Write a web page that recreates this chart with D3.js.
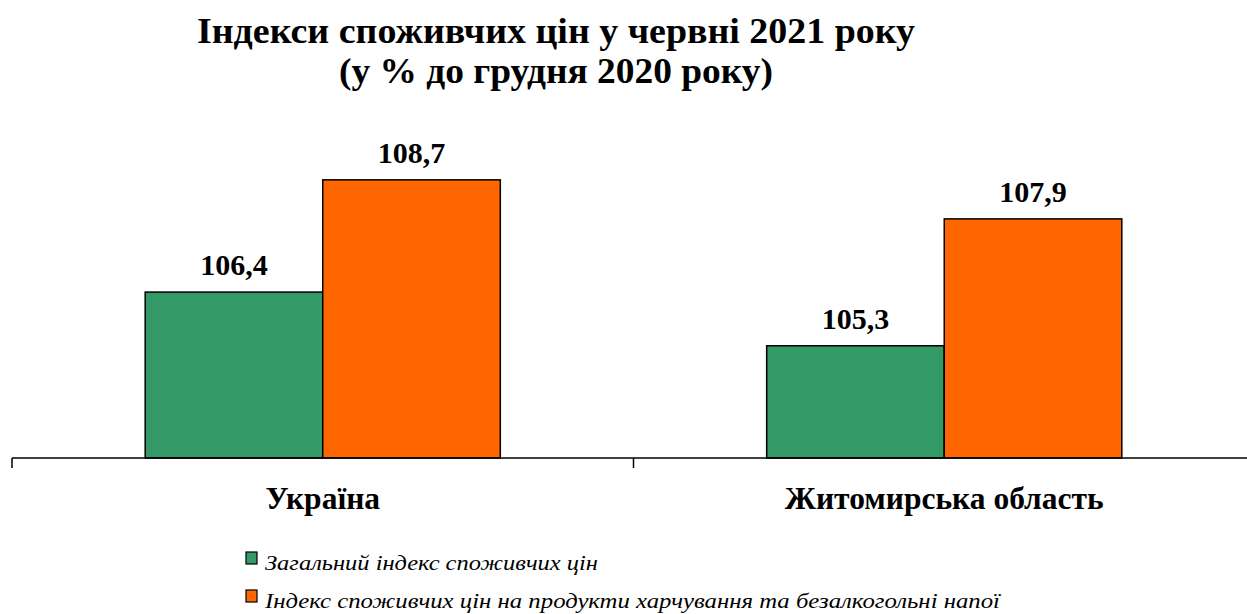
<!DOCTYPE html>
<html>
<head>
<meta charset="utf-8">
<script src="https://cdn.jsdelivr.net/npm/d3@7"></script>
<style>
  body { margin: 0; background: #fff; }
  svg { display: block; font-family: "Liberation Serif", "Times New Roman", serif; }
</style>
</head>
<body>
<div id="chart"></div>
<script>
var width = 1247, height = 614;

// data
var categories = ["Україна", "Житомирська область"];
var seriesNames = ["Загальний індекс споживчих  цін",
                   "Індекс споживчих  цін на продукти харчування  та безалкогольні напої"];
var generalIndex = [106.4, 105.3];
var foodIndex = [108.7, 107.9];
var colors = ["#339966", "#FF6600"];
var titleLines = ["Індекси споживчих цін  у червні 2021 року", "(у % до грудня 2020 року)"];

var svg = d3.select("#chart").append("svg")
    .attr("width", width)
    .attr("height", height);

var rows = categories.map(function(c, i) {
    return {cat: c, values: [generalIndex[i], foodIndex[i]]};
});

var x0 = d3.scaleBand()
    .domain(categories)
    .range([12, 1255])
    .padding(0);

var x1 = d3.scaleBand()
    .domain([0, 1])
    .range([0, x0.bandwidth()])
    .paddingInner(0)
    .paddingOuter(0.75);

var y = d3.scaleLinear()
    .domain([103, 110])
    .range([458, 458 - 48.8 * 7]);

// title
svg.selectAll(".title")
    .data(titleLines)
    .enter().append("text")
    .attr("class", "title")
    .attr("x", 556)
    .attr("y", function(d, i) { return 43 + i * 40; })
    .attr("text-anchor", "middle")
    .attr("font-weight", "bold")
    .attr("font-size", 35)
    .attr("textLength", function(d, i) { return i == 0 ? 718 : 434; })
    .attr("lengthAdjust", "spacingAndGlyphs")
    .text(function(d) { return d; });

// bars
var group = svg.selectAll(".group")
    .data(rows)
    .enter().append("g")
    .attr("class", "group")
    .attr("transform", function(d) { return "translate(" + x0(d.cat) + ",0)"; });

group.selectAll("rect")
    .data(function(d) { return d.values.map(function(v, k) { return {k: k, v: v}; }); })
    .enter().append("rect")
    .attr("x", function(d) { return x1(d.k); })
    .attr("width", x1.bandwidth())
    .attr("y", function(d) { return y(d.v); })
    .attr("height", function(d) { return y(103) - y(d.v); })
    .attr("fill", function(d) { return colors[d.k]; })
    .attr("stroke", "#000")
    .attr("stroke-width", 1.5);

group.selectAll(".val")
    .data(function(d) { return d.values.map(function(v, k) { return {k: k, v: v}; }); })
    .enter().append("text")
    .attr("class", "val")
    .attr("x", function(d) { return x1(d.k) + x1.bandwidth() / 2; })
    .attr("y", function(d) { return y(d.v) - 17; })
    .attr("text-anchor", "middle")
    .attr("font-weight", "bold")
    .attr("font-size", 30)
    .text(function(d) { return d3.format(".1f")(d.v).replace(".", ","); });

// x axis
var xAxis = d3.axisBottom(x0).tickSize(0).tickPadding(0).tickFormat("");
var axisG = svg.append("g")
    .attr("transform", "translate(0," + y(103) + ")")
    .call(xAxis);
axisG.select(".domain").remove();
axisG.append("line")
    .attr("x1", 12).attr("x2", width)
    .attr("stroke", "#000").attr("stroke-width", 1.5);
axisG.selectAll(".sep")
    .data(d3.range(categories.length + 1))
    .enter().append("line")
    .attr("class", "sep")
    .attr("x1", function(i) { return x0.range()[0] + i * x0.step(); })
    .attr("x2", function(i) { return x0.range()[0] + i * x0.step(); })
    .attr("y1", 0).attr("y2", 10)
    .attr("stroke", "#000").attr("stroke-width", 1.5);

svg.selectAll(".cat")
    .data(categories)
    .enter().append("text")
    .attr("class", "cat")
    .attr("x", function(d) { return x0(d) + x0.bandwidth() / 2; })
    .attr("y", 509)
    .attr("text-anchor", "middle")
    .attr("font-weight", "bold")
    .attr("font-size", 31.5)
    .text(function(d) { return d; });

// legend
var legend = svg.selectAll(".legend")
    .data(seriesNames)
    .enter().append("g")
    .attr("class", "legend")
    .attr("transform", function(d, i) { return "translate(246," + (552 + i * 38) + ")"; });

legend.append("rect")
    .attr("width", 11).attr("height", 12)
    .attr("fill", function(d, i) { return colors[i]; })
    .attr("stroke", "#000").attr("stroke-width", 1.2);

legend.append("text")
    .attr("x", 19)
    .attr("y", 18)
    .attr("font-style", "italic")
    .attr("font-size", 21)
    .attr("textLength", function(d, i) { return i == 0 ? 333 : 735; })
    .attr("lengthAdjust", "spacingAndGlyphs")
    .text(function(d) { return d; });
</script>
</body>
</html>
